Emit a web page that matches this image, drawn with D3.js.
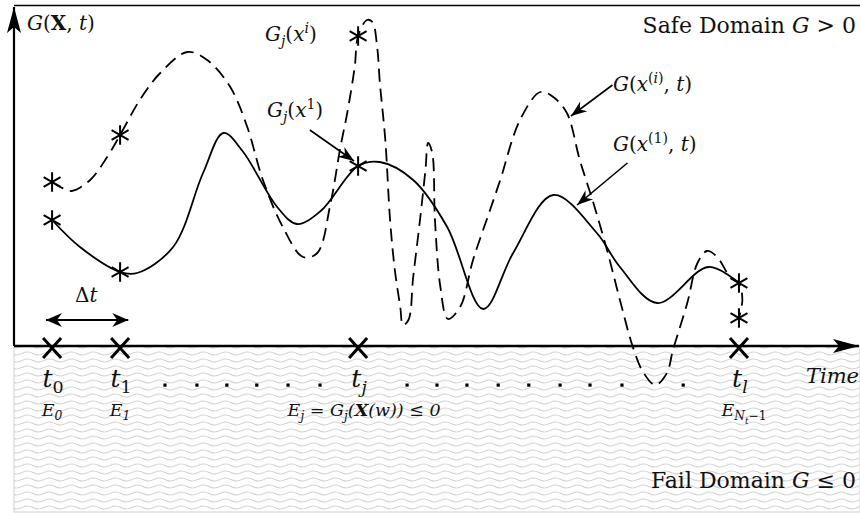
<!DOCTYPE html>
<html>
<head>
<meta charset="utf-8">
<script src="https://cdn.jsdelivr.net/npm/d3@7"></script>
<style>
  body { margin: 0; background: #fff; }
  svg text { font-family: "DejaVu Serif", "Liberation Serif", serif; fill: #111; white-space: pre; }
</style>
</head>
<body>
<svg width="860" height="513"></svg>
<script>
// time in units of Δt, G in arbitrary limit-state units
const timeDomain = [-0.56, 11.88];
const gDomain = [-1.67, 3.4];

// G(x^(1), t) : solid curve
const curveFirst = [
    [0.00, 1.26], [0.41, 0.99], [1.00, 0.74], [1.25, 0.73], [1.78, 0.99], [2.22, 1.73],
    [2.52, 2.13], [2.80, 1.95], [3.31, 1.39], [3.60, 1.22], [3.95, 1.35], [4.50, 1.80],
    [4.82, 1.84], [5.31, 1.66], [5.81, 1.19], [6.34, 0.37], [6.78, 0.93], [7.37, 1.51],
    [8.01, 1.13], [8.35, 0.79], [8.90, 0.43], [9.65, 0.79], [10.1, 0.63]
];

// G(x^(i), t) : dashed curve
const curveIth = [
    [0.00, 1.64], [0.12, 1.59], [0.29, 1.55], [0.56, 1.66], [0.81, 1.89], [1.00, 2.11],
    [1.29, 2.46], [1.59, 2.73], [1.99, 2.94], [2.28, 2.86], [2.62, 2.59], [2.87, 2.19],
    [3.10, 1.66], [3.40, 1.18], [3.69, 0.89], [3.90, 0.93], [4.09, 1.41], [4.24, 1.99],
    [4.34, 2.33], [4.45, 2.79], [4.50, 3.10], [4.63, 3.26], [4.71, 3.24], [4.78, 2.99],
    [4.82, 2.63], [4.90, 2.06], [4.97, 1.26], [5.04, 0.76], [5.12, 0.39], [5.16, 0.21],
    [5.24, 0.26], [5.31, 0.69], [5.41, 1.26], [5.49, 1.76], [5.53, 2.03], [5.59, 1.93],
    [5.63, 1.26], [5.71, 0.59], [5.82, 0.27], [6.00, 0.39], [6.19, 0.86], [6.44, 1.36],
    [6.59, 1.66], [6.88, 2.26], [7.18, 2.54], [7.37, 2.49], [7.57, 2.33], [7.76, 1.86],
    [7.96, 1.43], [8.16, 0.96], [8.35, 0.46], [8.54, -0.01], [8.69, -0.26], [8.87, -0.39],
    [9.04, -0.27], [9.13, -0.04], [9.34, 0.43], [9.49, 0.83], [9.63, 0.95], [9.78, 0.89],
    [9.97, 0.69], [10.1, 0.63], [10.15, 0.46], [10.1, 0.28]
];

// sampling instants and sampled values
const sampleTimes = [0, 1, 4.5, 10.1];
const sampleTickNames = ["0", "1", "j", "l"];
const sampleFirst = [1.26, 0.74, 1.80, 0.63];
const sampleIth = [1.64, 2.11, 3.10, 0.28];
const dotTimes = [1.66, 2.13, 2.57, 3.01, 3.47, 3.94, 5.22, 5.66, 6.10, 6.56, 7.01, 7.47, 7.91, 8.38, 9.28];

// annotation arrows [t0, g0, t1, g1]
const pointerArrows = [
    [3.79, 2.16, 4.44, 1.85],
    [8.24, 2.61, 7.63, 2.30],
    [8.46, 1.83, 7.72, 1.41]
];
const deltaArrow = [-0.09, 1.12, 0.26];

const svg = d3.select("svg");
const W = 860, H = 513;

const x = d3.scaleLinear().domain(timeDomain).range([14, 860]);
const y = d3.scaleLinear().domain(gDomain).range([H, 6]);

const defs = svg.append("defs");

const pat = defs.append("pattern")
    .attr("id", "waves")
    .attr("width", 22).attr("height", 7)
    .attr("patternUnits", "userSpaceOnUse");
pat.append("path")
    .attr("d", "M0,3.5 Q5.5,0.5 11,3.5 T22,3.5")
    .attr("fill", "none")
    .attr("stroke", "#d2d2d2")
    .attr("stroke-width", 1.1);

function marker(id, d, orient) {
    defs.append("marker")
        .attr("id", id)
        .attr("markerUnits", "userSpaceOnUse")
        .attr("viewBox", "-30 -10 32 20")
        .attr("markerWidth", 32).attr("markerHeight", 20)
        .attr("refX", 0).attr("refY", 0)
        .attr("orient", orient)
        .append("path").attr("d", d).attr("fill", "#000");
}
marker("head", "M0,0 L-16,-6 L-11,0 L-16,6 Z", "auto");
marker("head2", "M0,0 L-16,-7 L-11,0 L-16,7 Z", "auto-start-reverse");
marker("axisHead", "M0,0 L-26,-7 L-20,0 L-26,7 Z", "auto");

// fail domain
svg.append("rect")
    .attr("x", x(timeDomain[0])).attr("y", y(0))
    .attr("width", x(timeDomain[1]) - x(timeDomain[0]))
    .attr("height", y(gDomain[0]) - y(0) - 1)
    .attr("fill", "url(#waves)")
    .attr("stroke", "#d8d8d8")
    .attr("stroke-width", 1.2);

// top frame
svg.append("line")
    .attr("x1", x(timeDomain[0])).attr("x2", W)
    .attr("y1", y(gDomain[1]) - 0.5).attr("y2", y(gDomain[1]) - 0.5)
    .attr("stroke", "#000").attr("stroke-width", 1.6);

const curveLine = d3.line()
    .x(d => x(d[0]))
    .y(d => y(d[1]))
    .curve(d3.curveCatmullRom.alpha(0.5));

svg.append("path")
    .attr("d", curveLine(curveIth))
    .attr("fill", "none")
    .attr("stroke", "#000")
    .attr("stroke-width", 1.8)
    .attr("stroke-dasharray", "13,7");

svg.append("path")
    .attr("d", curveLine(curveFirst))
    .attr("fill", "none")
    .attr("stroke", "#000")
    .attr("stroke-width", 1.8);

// axes
svg.append("line")
    .attr("x1", x(timeDomain[0])).attr("x2", x(timeDomain[0]))
    .attr("y1", y(0)).attr("y2", y(gDomain[1]) + 1)
    .attr("stroke", "#000").attr("stroke-width", 2.2)
    .attr("marker-end", "url(#axisHead)");

svg.append("line")
    .attr("x1", x(timeDomain[0])).attr("x2", W - 1)
    .attr("y1", y(0)).attr("y2", y(0))
    .attr("stroke", "#000").attr("stroke-width", 2.4)
    .attr("marker-end", "url(#axisHead)");

// sample stars
const star = d3.symbol().type(d3.symbolAsterisk).size(270);
const samples = sampleTimes.flatMap((t, i) => [[t, sampleFirst[i]], [t, sampleIth[i]]]);
svg.selectAll(".star")
    .data(samples)
    .enter()
    .append("path")
    .attr("class", "star")
    .attr("transform", d => `translate(${x(d[0])},${y(d[1])})`)
    .attr("d", star)
    .attr("fill", "none")
    .attr("stroke", "#000")
    .attr("stroke-width", 2);

// crosses on the time axis
svg.selectAll(".cross")
    .data(sampleTimes)
    .enter()
    .append("path")
    .attr("class", "cross")
    .attr("transform", d => `translate(${x(d)},${y(0) + 2})`)
    .attr("d", "M-9,-10 L9,10 M-9,10 L9,-10")
    .attr("stroke", "#000")
    .attr("stroke-width", 3)
    .attr("fill", "none");

// dots between ticks
svg.selectAll(".dot")
    .data(dotTimes)
    .enter()
    .append("rect")
    .attr("class", "dot")
    .attr("x", d => x(d) - 1.6)
    .attr("y", 383.5)
    .attr("width", 3.2).attr("height", 3.2)
    .attr("fill", "#000");

// arrows
svg.selectAll(".ptr")
    .data(pointerArrows)
    .enter()
    .append("line")
    .attr("x1", d => x(d[0])).attr("y1", d => y(d[1]))
    .attr("x2", d => x(d[2])).attr("y2", d => y(d[3]))
    .attr("stroke", "#000").attr("stroke-width", 1.6)
    .attr("marker-end", "url(#head)");

svg.append("line")
    .attr("x1", x(deltaArrow[0])).attr("x2", x(deltaArrow[1]))
    .attr("y1", y(deltaArrow[2])).attr("y2", y(deltaArrow[2]))
    .attr("stroke", "#000").attr("stroke-width", 1.8)
    .attr("marker-start", "url(#head2)")
    .attr("marker-end", "url(#head2)");

// rich text: flags i=italic b=bold _=sub ^=sup ==subsub
function rich(px, py, size, parts, anchor = "start") {
    const txt = svg.append("text")
        .attr("x", px).attr("y", py)
        .attr("font-size", size)
        .attr("text-anchor", anchor);
    let shift = 0;
    parts.forEach(([s, f = ""]) => {
        let want = 0, fs = size;
        if (f.includes("=")) { want = size * 0.45; fs = size * 0.5; }
        else if (f.includes("_")) { want = size * 0.25; fs = size * 0.7; }
        else if (f.includes("^")) { want = -size * 0.38; fs = size * 0.7; }
        txt.append("tspan")
            .attr("dy", want - shift)
            .attr("font-size", fs)
            .attr("font-style", f.includes("i") ? "italic" : "normal")
            .attr("font-weight", f.includes("b") ? "bold" : "normal")
            .text(s);
        shift = want;
    });
    return txt;
}

rich(27, 30, 20, [["G", "i"], ["("], ["X", "b"], [", "], ["t", "i"], [")"]]);
rich(856, 33, 22, [["Safe Domain "], ["G", "i"], [" > 0"]], "end");
rich(265, 41, 20, [["G", "i"], ["j", "i_"], ["("], ["x", "i"], ["i", "i^"], [")"]]);
rich(267, 117, 20, [["G", "i"], ["j", "i_"], ["("], ["x", "i"], ["1", "^"], [")"]]);
rich(613, 91, 20, [["G", "i"], ["("], ["x", "i"], ["(", "^"], ["i", "i^"], [")", "^"], [", "], ["t", "i"], [")"]]);
rich(613, 151, 20, [["G", "i"], ["("], ["x", "i"], ["(1)", "^"], [", "], ["t", "i"], [")"]]);
rich(75, 302, 20, [["Δ"], ["t", "i"]]);

sampleTimes.forEach((t, i) => {
    rich(x(t) + 1, 387, 25, [["t", "i"], [sampleTickNames[i], sampleTickNames[i] === "0" || sampleTickNames[i] === "1" ? "_" : "i_"]], "middle");
});

rich(x(sampleTimes[0]), 416, 17.5, [["E", "i"], ["0", "i_"]], "middle");
rich(x(sampleTimes[1]), 416, 17.5, [["E", "i"], ["1", "i_"]], "middle");
rich(x(sampleTimes[2]) + 6, 416, 17.5, [["E", "i"], ["j", "i_"], [" = ", "i"], ["G", "i"], ["j", "i_"], ["(", "i"], ["X", "bi"], ["(", "i"], ["w", "i"], ["))", "i"], [" ≤ 0", "i"]], "middle");
rich(x(sampleTimes[3]) + 5, 416, 17.5, [["E", "i"], ["N", "i_"], ["t", "i="], ["−1", "_"]], "middle");

rich(859, 383, 21, [["Time", "i"]], "end");
rich(856, 488, 22, [["Fail Domain "], ["G", "i"], [" ≤ 0"]], "end");
</script>
</body>
</html>
